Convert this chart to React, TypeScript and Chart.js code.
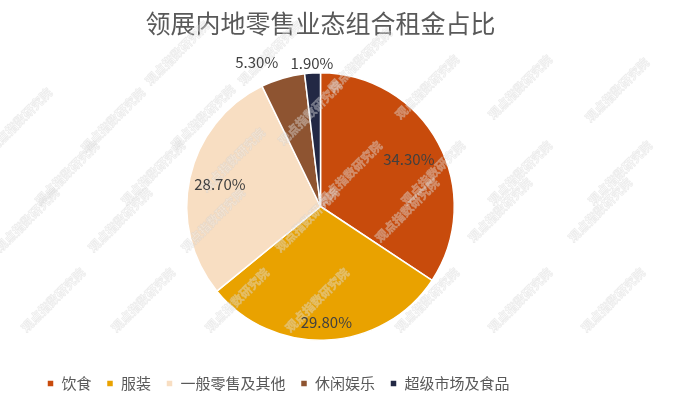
import React, { useEffect, useRef } from "react";
import { Chart, registerables } from "chart.js";

Chart.register(...registerables);

const TITLE = "领展内地零售业态组合租金占比";
const CATEGORIES = ["饮食", "服装", "一般零售及其他", "休闲娱乐", "超级市场及食品"];
const VALUES = [34.3, 29.8, 28.7, 5.3, 1.9];
const COLORS = ["#C84B0C", "#E9A200", "#F8DEC2", "#8E5431", "#222844"];
// label placement: radial factor of the outer radius and text alignment
const LABEL_RADIUS = [0.75, 0.87, 0.77, 1.12, 1.075];
const LABEL_ALIGN: CanvasTextAlign[] = ["center", "center", "center", "right", "center"];
const WATERMARK = "观点指数研究院";
const WATERMARK_SPOTS = [
  [177, 53], [270, 53], [360, 60],
  [427, 87], [520, 87], [617, 90],
  [20, 120], [113, 120], [203, 117], [310, 113],
  [67, 173], [153, 173], [233, 160], [350, 173], [433, 173], [520, 173], [620, 173],
  [27, 220], [120, 220], [213, 220], [307, 220], [407, 210], [500, 210], [600, 210],
  [53, 300], [143, 300], [237, 300], [317, 300], [427, 300], [520, 300], [613, 300],
];

const FONT = '"Noto Sans CJK SC", "Noto Sans", sans-serif';

const labelPlugin = {
  id: "pieLabels",
  afterDatasetsDraw(chart: any) {
    const ctx = chart.ctx as CanvasRenderingContext2D;
    // watermark
    ctx.save();
    ctx.font = `bold 12px ${FONT}`;
    ctx.textAlign = "center";
    ctx.textBaseline = "middle";
    ctx.lineWidth = 0.8;
    ctx.strokeStyle = "rgba(200,200,200,0.35)";
    ctx.fillStyle = "rgba(255,255,255,0.3)";
    for (const [x, y] of WATERMARK_SPOTS) {
      ctx.save();
      ctx.translate(x, y);
      ctx.rotate(-Math.PI / 4);
      ctx.fillText(WATERMARK, 0, 0);
      ctx.strokeText(WATERMARK, 0, 0);
      ctx.restore();
    }
    ctx.restore();

    const meta = chart.getDatasetMeta(0);
    ctx.save();
    ctx.font = `15px ${FONT}`;
    ctx.fillStyle = "#404040";
    ctx.textBaseline = "middle";
    meta.data.forEach((arc: any, i: number) => {
      const { x, y, startAngle, endAngle, outerRadius } = arc.getProps(
        ["x", "y", "startAngle", "endAngle", "outerRadius"],
        true
      );
      const mid = (startAngle + endAngle) / 2;
      const d = outerRadius * LABEL_RADIUS[i];
      const lx = x + Math.cos(mid) * d;
      const ly = y + Math.sin(mid) * d;
      ctx.textAlign = LABEL_ALIGN[i];
      ctx.fillText(VALUES[i].toFixed(2) + "%", lx, ly);
    });
    ctx.restore();
  },
};

export default function App() {
  const ref = useRef<HTMLCanvasElement | null>(null);
  useEffect(() => {
    if (!ref.current) return;
    const chart = new Chart(ref.current, {
      type: "pie",
      data: {
        labels: CATEGORIES,
        datasets: [
          {
            data: VALUES,
            backgroundColor: COLORS,
            borderColor: "#ffffff",
            borderWidth: 1.5,
            radius: "87%",
          },
        ],
      },
      options: {
        responsive: false,
        animation: false,
        layout: { padding: { left: 32, right: 68, top: 0, bottom: 2 } },
        plugins: {
          title: {
            display: true,
            text: TITLE,
            color: "#595959",
            font: { family: FONT, size: 25, weight: "normal" },
            padding: { top: 8, bottom: 14 },
          },
          legend: {
            display: true,
            position: "bottom",
            align: "start",
            labels: {
              boxWidth: 7,
              boxHeight: 7,
              padding: 15,
              color: "#595959",
              font: { family: FONT, size: 15 },
            },
          },
          tooltip: { enabled: false },
        },
      },
      plugins: [labelPlugin],
    });
    return () => chart.destroy();
  }, []);
  return (
    <div style={{ position: "absolute", left: 0, top: 0, width: 677, height: 403, background: "#fff" }}>
      <canvas ref={ref} width={677} height={403} />
    </div>
  );
}
